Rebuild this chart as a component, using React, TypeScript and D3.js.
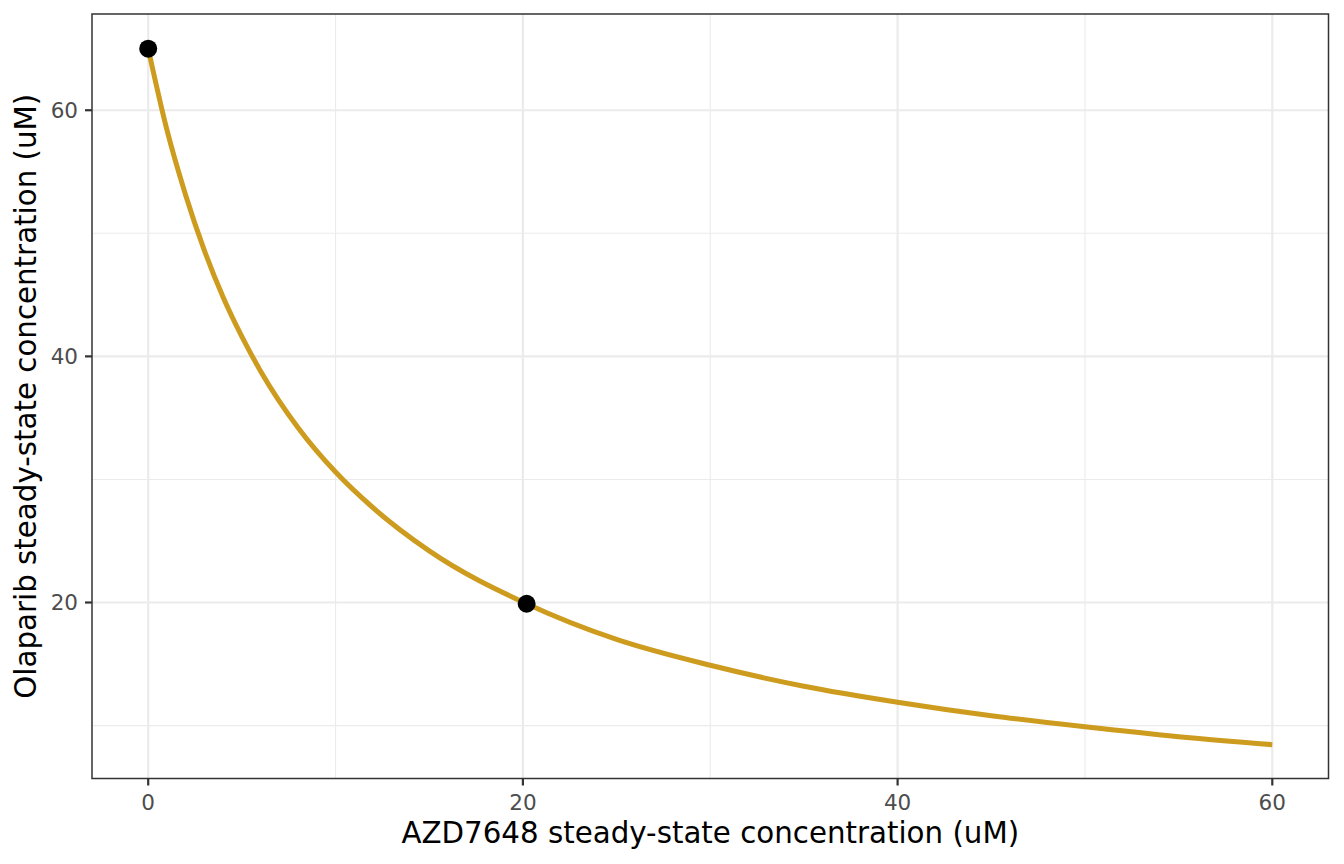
import React from "react";
import * as d3 from "d3";

// curve values (AZD7648 vs Olaparib, uM)
const curveX = [0, 1, 2, 3, 4, 5, 6, 8, 10, 12, 15, 20.2, 25, 30, 35, 40, 45, 50, 55, 60];
const curveY = [65, 58.4, 53.1, 48.6, 44.8, 41.6, 38.8, 34.2, 30.6, 27.7, 24.2, 19.9, 17.0, 14.9, 13.2, 11.9, 10.8, 9.9, 9.1, 8.45];

const pointX = [0, 20.2];
const pointY = [65, 19.9];

const xTicks = [0, 20, 40, 60];
const yTicks = [20, 40, 60];
const xMinor = [10, 30, 50];
const yMinor = [10, 30, 50];

const W = 1344;
const H = 864;
const m = { left: 92, right: 15.5, top: 14, bottom: 85.5 };

export default function App() {
  const x = d3.scaleLinear().domain([-3, 63]).range([m.left, W - m.right]);
  const y = d3.scaleLinear().domain([5.7, 67.82]).range([H - m.bottom, m.top]);

  const pts = curveX.map((v, i) => [v, curveY[i]] as [number, number]);
  const line = d3
    .line<[number, number]>()
    .x((d) => x(d[0]))
    .y((d) => y(d[1]))
    .curve(d3.curveMonotoneX);

  const font = "DejaVu Sans, Verdana, sans-serif";
  const pl = m.left;
  const pr = W - m.right;
  const pt = m.top;
  const pb = H - m.bottom;

  return (
    <svg
      width={W}
      height={H}
      style={{ position: "absolute", left: 0, top: 0, background: "#fff" }}
      fontFamily={font}
    >
      <rect x={pl} y={pt} width={pr - pl} height={pb - pt} fill="#fff" />
      {xMinor.map((t) => (
        <line key={"xm" + t} x1={x(t)} x2={x(t)} y1={pt} y2={pb} stroke="#ebebeb" strokeWidth={1.1} />
      ))}
      {yMinor.map((t) => (
        <line key={"ym" + t} x1={pl} x2={pr} y1={y(t)} y2={y(t)} stroke="#ebebeb" strokeWidth={1.1} />
      ))}
      {xTicks.map((t) => (
        <line key={"xg" + t} x1={x(t)} x2={x(t)} y1={pt} y2={pb} stroke="#ebebeb" strokeWidth={2.2} />
      ))}
      {yTicks.map((t) => (
        <line key={"yg" + t} x1={pl} x2={pr} y1={y(t)} y2={y(t)} stroke="#ebebeb" strokeWidth={2.2} />
      ))}

      <path d={line(pts) ?? ""} fill="none" stroke="#CD9B1D" strokeWidth={5} />
      {pointX.map((v, i) => (
        <circle key={"p" + i} cx={x(v)} cy={y(pointY[i])} r={9} fill="#000" />
      ))}

      <rect x={pl} y={pt} width={pr - pl} height={pb - pt} fill="none" stroke="#333333" strokeWidth={1.5} />

      {xTicks.map((t) => (
        <g key={"xt" + t}>
          <line x1={x(t)} x2={x(t)} y1={pb} y2={pb + 7} stroke="#333333" strokeWidth={2.2} />
          <text x={x(t)} y={pb + 31} textAnchor="middle" fontSize={21.5} fill="#4d4d4d">
            {t}
          </text>
        </g>
      ))}
      {yTicks.map((t) => (
        <g key={"yt" + t}>
          <line x1={pl - 7} x2={pl} y1={y(t)} y2={y(t)} stroke="#333333" strokeWidth={2.2} />
          <text x={pl - 14} y={y(t)} dy="0.36em" textAnchor="end" fontSize={21.5} fill="#4d4d4d">
            {t}
          </text>
        </g>
      ))}

      <text x={(pl + pr) / 2} y={843} textAnchor="middle" fontSize={29.3} fill="#000">
        AZD7648 steady-state concentration (uM)
      </text>
      <text
        transform={`translate(36, ${(pt + pb) / 2}) rotate(-90)`}
        textAnchor="middle"
        fontSize={29.3}
        fill="#000"
      >
        Olaparib steady-state concentration (uM)
      </text>
    </svg>
  );
}
